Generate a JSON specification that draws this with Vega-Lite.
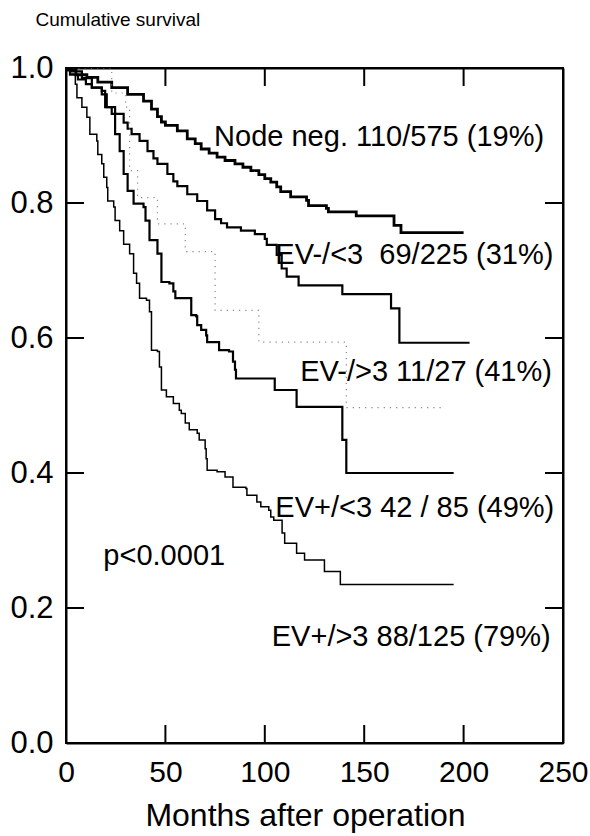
{
  "$schema": "https://vega.github.io/schema/vega-lite/v6.json",
  "width": 497,
  "height": 675,
  "autosize": {"type": "none"},
  "padding": {"left": 66, "top": 68, "right": 27, "bottom": 93},
  "background": "white",
  "config": {"view": {"stroke": "black", "strokeWidth": 2}, "font": "Liberation Sans"},
  "datasets": {
    "curves": [
      {"group": "Node neg.", "month": 0, "survival": 1.0},
      {"group": "Node neg.", "month": 1, "survival": 0.997},
      {"group": "Node neg.", "month": 5, "survival": 0.99},
      {"group": "Node neg.", "month": 10.5, "survival": 0.986},
      {"group": "Node neg.", "month": 16, "survival": 0.979},
      {"group": "Node neg.", "month": 23, "survival": 0.971},
      {"group": "Node neg.", "month": 31, "survival": 0.961},
      {"group": "Node neg.", "month": 39, "survival": 0.951},
      {"group": "Node neg.", "month": 43, "survival": 0.939},
      {"group": "Node neg.", "month": 46, "survival": 0.928},
      {"group": "Node neg.", "month": 48, "survival": 0.92},
      {"group": "Node neg.", "month": 50, "survival": 0.915},
      {"group": "Node neg.", "month": 56, "survival": 0.907},
      {"group": "Node neg.", "month": 61, "survival": 0.895},
      {"group": "Node neg.", "month": 65, "survival": 0.888},
      {"group": "Node neg.", "month": 68, "survival": 0.88},
      {"group": "Node neg.", "month": 72, "survival": 0.874},
      {"group": "Node neg.", "month": 76, "survival": 0.868},
      {"group": "Node neg.", "month": 80, "survival": 0.863},
      {"group": "Node neg.", "month": 85, "survival": 0.858},
      {"group": "Node neg.", "month": 89, "survival": 0.853},
      {"group": "Node neg.", "month": 93, "survival": 0.848},
      {"group": "Node neg.", "month": 97, "survival": 0.842},
      {"group": "Node neg.", "month": 100, "survival": 0.836},
      {"group": "Node neg.", "month": 103, "survival": 0.831},
      {"group": "Node neg.", "month": 106, "survival": 0.824},
      {"group": "Node neg.", "month": 108, "survival": 0.817},
      {"group": "Node neg.", "month": 113, "survival": 0.809},
      {"group": "Node neg.", "month": 121, "survival": 0.804},
      {"group": "Node neg.", "month": 122, "survival": 0.796},
      {"group": "Node neg.", "month": 131, "survival": 0.792},
      {"group": "Node neg.", "month": 132, "survival": 0.787},
      {"group": "Node neg.", "month": 146, "survival": 0.781},
      {"group": "Node neg.", "month": 165, "survival": 0.767},
      {"group": "Node neg.", "month": 168.5, "survival": 0.756},
      {"group": "Node neg.", "month": 200, "survival": 0.756},

      {"group": "EV-/<3", "month": 0, "survival": 1.0},
      {"group": "EV-/<3", "month": 2, "survival": 0.99},
      {"group": "EV-/<3", "month": 6, "survival": 0.983},
      {"group": "EV-/<3", "month": 10, "survival": 0.976},
      {"group": "EV-/<3", "month": 13, "survival": 0.971},
      {"group": "EV-/<3", "month": 18, "survival": 0.961},
      {"group": "EV-/<3", "month": 20.5, "survival": 0.942},
      {"group": "EV-/<3", "month": 24.7, "survival": 0.932},
      {"group": "EV-/<3", "month": 29, "survival": 0.919},
      {"group": "EV-/<3", "month": 31, "survival": 0.91},
      {"group": "EV-/<3", "month": 33, "survival": 0.902},
      {"group": "EV-/<3", "month": 37, "survival": 0.892},
      {"group": "EV-/<3", "month": 41, "survival": 0.877},
      {"group": "EV-/<3", "month": 44, "survival": 0.866},
      {"group": "EV-/<3", "month": 46, "survival": 0.858},
      {"group": "EV-/<3", "month": 51, "survival": 0.843},
      {"group": "EV-/<3", "month": 54, "survival": 0.832},
      {"group": "EV-/<3", "month": 56, "survival": 0.825},
      {"group": "EV-/<3", "month": 61, "survival": 0.813},
      {"group": "EV-/<3", "month": 66, "survival": 0.803},
      {"group": "EV-/<3", "month": 71, "survival": 0.789},
      {"group": "EV-/<3", "month": 75, "survival": 0.776},
      {"group": "EV-/<3", "month": 78, "survival": 0.77},
      {"group": "EV-/<3", "month": 81, "survival": 0.764},
      {"group": "EV-/<3", "month": 88, "survival": 0.759},
      {"group": "EV-/<3", "month": 95, "survival": 0.754},
      {"group": "EV-/<3", "month": 100, "survival": 0.747},
      {"group": "EV-/<3", "month": 101, "survival": 0.738},
      {"group": "EV-/<3", "month": 106, "survival": 0.723},
      {"group": "EV-/<3", "month": 108.5, "survival": 0.703},
      {"group": "EV-/<3", "month": 111, "survival": 0.691},
      {"group": "EV-/<3", "month": 117, "survival": 0.678},
      {"group": "EV-/<3", "month": 139, "survival": 0.665},
      {"group": "EV-/<3", "month": 163.5, "survival": 0.644},
      {"group": "EV-/<3", "month": 167.7, "survival": 0.593},
      {"group": "EV-/<3", "month": 203, "survival": 0.593},

      {"group": "EV-/>3", "month": 0, "survival": 1.0},
      {"group": "EV-/>3", "month": 23, "survival": 0.963},
      {"group": "EV-/>3", "month": 30, "survival": 0.942},
      {"group": "EV-/>3", "month": 32, "survival": 0.848},
      {"group": "EV-/>3", "month": 36, "survival": 0.808},
      {"group": "EV-/>3", "month": 46, "survival": 0.769},
      {"group": "EV-/>3", "month": 60, "survival": 0.728},
      {"group": "EV-/>3", "month": 75, "survival": 0.641},
      {"group": "EV-/>3", "month": 97, "survival": 0.594},
      {"group": "EV-/>3", "month": 141, "survival": 0.497},
      {"group": "EV-/>3", "month": 188.5, "survival": 0.497},

      {"group": "EV+/<3", "month": 0, "survival": 1.0},
      {"group": "EV+/<3", "month": 3, "survival": 0.995},
      {"group": "EV+/<3", "month": 8, "survival": 0.985},
      {"group": "EV+/<3", "month": 13, "survival": 0.971},
      {"group": "EV+/<3", "month": 18, "survival": 0.966},
      {"group": "EV+/<3", "month": 19.7, "survival": 0.942},
      {"group": "EV+/<3", "month": 23, "survival": 0.932},
      {"group": "EV+/<3", "month": 24.7, "survival": 0.902},
      {"group": "EV+/<3", "month": 27, "survival": 0.877},
      {"group": "EV+/<3", "month": 29, "survival": 0.843},
      {"group": "EV+/<3", "month": 31, "survival": 0.818},
      {"group": "EV+/<3", "month": 34, "survival": 0.799},
      {"group": "EV+/<3", "month": 39, "survival": 0.794},
      {"group": "EV+/<3", "month": 40, "survival": 0.774},
      {"group": "EV+/<3", "month": 42, "survival": 0.745},
      {"group": "EV+/<3", "month": 46, "survival": 0.725},
      {"group": "EV+/<3", "month": 48, "survival": 0.683},
      {"group": "EV+/<3", "month": 52, "survival": 0.681},
      {"group": "EV+/<3", "month": 54, "survival": 0.669},
      {"group": "EV+/<3", "month": 55, "survival": 0.659},
      {"group": "EV+/<3", "month": 63, "survival": 0.634},
      {"group": "EV+/<3", "month": 65.5, "survival": 0.632},
      {"group": "EV+/<3", "month": 66, "survival": 0.619},
      {"group": "EV+/<3", "month": 68, "survival": 0.612},
      {"group": "EV+/<3", "month": 70.5, "survival": 0.604},
      {"group": "EV+/<3", "month": 71, "survival": 0.594},
      {"group": "EV+/<3", "month": 77, "survival": 0.582},
      {"group": "EV+/<3", "month": 82, "survival": 0.58},
      {"group": "EV+/<3", "month": 84, "survival": 0.565},
      {"group": "EV+/<3", "month": 85, "survival": 0.553},
      {"group": "EV+/<3", "month": 85.5, "survival": 0.54},
      {"group": "EV+/<3", "month": 105, "survival": 0.523},
      {"group": "EV+/<3", "month": 116, "survival": 0.498},
      {"group": "EV+/<3", "month": 139, "survival": 0.449},
      {"group": "EV+/<3", "month": 141, "survival": 0.4},
      {"group": "EV+/<3", "month": 195, "survival": 0.4},

      {"group": "EV+/>3", "month": 0, "survival": 1.0},
      {"group": "EV+/>3", "month": 2, "survival": 0.991},
      {"group": "EV+/>3", "month": 4.7, "survival": 0.976},
      {"group": "EV+/>3", "month": 5.5, "survival": 0.956},
      {"group": "EV+/>3", "month": 8, "survival": 0.942},
      {"group": "EV+/>3", "month": 10.5, "survival": 0.927},
      {"group": "EV+/>3", "month": 12, "survival": 0.902},
      {"group": "EV+/>3", "month": 15.5, "survival": 0.892},
      {"group": "EV+/>3", "month": 16, "survival": 0.872},
      {"group": "EV+/>3", "month": 18, "survival": 0.858},
      {"group": "EV+/>3", "month": 19, "survival": 0.838},
      {"group": "EV+/>3", "month": 20.5, "survival": 0.823},
      {"group": "EV+/>3", "month": 21, "survival": 0.803},
      {"group": "EV+/>3", "month": 24, "survival": 0.794},
      {"group": "EV+/>3", "month": 24.7, "survival": 0.774},
      {"group": "EV+/>3", "month": 27, "survival": 0.759},
      {"group": "EV+/>3", "month": 29, "survival": 0.739},
      {"group": "EV+/>3", "month": 32, "survival": 0.725},
      {"group": "EV+/>3", "month": 34, "survival": 0.696},
      {"group": "EV+/>3", "month": 35.5, "survival": 0.681},
      {"group": "EV+/>3", "month": 37, "survival": 0.659},
      {"group": "EV+/>3", "month": 40.5, "survival": 0.656},
      {"group": "EV+/>3", "month": 42, "survival": 0.639},
      {"group": "EV+/>3", "month": 43, "survival": 0.582},
      {"group": "EV+/>3", "month": 46, "survival": 0.58},
      {"group": "EV+/>3", "month": 47, "survival": 0.557},
      {"group": "EV+/>3", "month": 48, "survival": 0.523},
      {"group": "EV+/>3", "month": 50.5, "survival": 0.513},
      {"group": "EV+/>3", "month": 54, "survival": 0.503},
      {"group": "EV+/>3", "month": 57, "survival": 0.493},
      {"group": "EV+/>3", "month": 58, "survival": 0.488},
      {"group": "EV+/>3", "month": 60, "survival": 0.474},
      {"group": "EV+/>3", "month": 62, "survival": 0.464},
      {"group": "EV+/>3", "month": 66, "survival": 0.459},
      {"group": "EV+/>3", "month": 67, "survival": 0.449},
      {"group": "EV+/>3", "month": 70, "survival": 0.436},
      {"group": "EV+/>3", "month": 70.5, "survival": 0.421},
      {"group": "EV+/>3", "month": 71, "survival": 0.404},
      {"group": "EV+/>3", "month": 76, "survival": 0.402},
      {"group": "EV+/>3", "month": 80, "survival": 0.394},
      {"group": "EV+/>3", "month": 84, "survival": 0.379},
      {"group": "EV+/>3", "month": 90.5, "survival": 0.377},
      {"group": "EV+/>3", "month": 91, "survival": 0.367},
      {"group": "EV+/>3", "month": 96, "survival": 0.357},
      {"group": "EV+/>3", "month": 98, "survival": 0.35},
      {"group": "EV+/>3", "month": 102, "survival": 0.345},
      {"group": "EV+/>3", "month": 103, "survival": 0.335},
      {"group": "EV+/>3", "month": 104.5, "survival": 0.33},
      {"group": "EV+/>3", "month": 108.7, "survival": 0.311},
      {"group": "EV+/>3", "month": 110, "survival": 0.296},
      {"group": "EV+/>3", "month": 116, "survival": 0.281},
      {"group": "EV+/>3", "month": 120, "survival": 0.271},
      {"group": "EV+/>3", "month": 130, "survival": 0.254},
      {"group": "EV+/>3", "month": 138, "survival": 0.235},
      {"group": "EV+/>3", "month": 195, "survival": 0.235}
    ],
    "labels": [
      {"label": "Node neg. 110/575 (19%)", "month": 74.5, "survival": 0.884},
      {"label": "EV-/<3\u00a0 69/225 (31%)", "month": 105.3, "survival": 0.71},
      {"label": "EV-/>3 11/27 (41%)", "month": 117.8, "survival": 0.536},
      {"label": "EV+/<3 42 / 85 (49%)", "month": 105.3, "survival": 0.335},
      {"label": "p<0.0001", "month": 18.8, "survival": 0.264},
      {"label": "EV+/>3 88/125 (79%)", "month": 103.5, "survival": 0.144}
    ],
    "ticks": [
      {"tick": "b50", "month": 50, "survival": 0}, {"tick": "b50", "month": 50, "survival": 0.0267},
      {"tick": "b100", "month": 100, "survival": 0}, {"tick": "b100", "month": 100, "survival": 0.0267},
      {"tick": "b150", "month": 150, "survival": 0}, {"tick": "b150", "month": 150, "survival": 0.0267},
      {"tick": "b200", "month": 200, "survival": 0}, {"tick": "b200", "month": 200, "survival": 0.0267},
      {"tick": "t50", "month": 50, "survival": 1}, {"tick": "t50", "month": 50, "survival": 0.9733},
      {"tick": "t100", "month": 100, "survival": 1}, {"tick": "t100", "month": 100, "survival": 0.9733},
      {"tick": "t150", "month": 150, "survival": 1}, {"tick": "t150", "month": 150, "survival": 0.9733},
      {"tick": "t200", "month": 200, "survival": 1}, {"tick": "t200", "month": 200, "survival": 0.9733},
      {"tick": "l0.2", "month": 0, "survival": 0.2}, {"tick": "l0.2", "month": 9.05, "survival": 0.2},
      {"tick": "l0.4", "month": 0, "survival": 0.4}, {"tick": "l0.4", "month": 9.05, "survival": 0.4},
      {"tick": "l0.6", "month": 0, "survival": 0.6}, {"tick": "l0.6", "month": 9.05, "survival": 0.6},
      {"tick": "l0.8", "month": 0, "survival": 0.8}, {"tick": "l0.8", "month": 9.05, "survival": 0.8},
      {"tick": "r0.2", "month": 240.95, "survival": 0.2}, {"tick": "r0.2", "month": 250, "survival": 0.2},
      {"tick": "r0.4", "month": 240.95, "survival": 0.4}, {"tick": "r0.4", "month": 250, "survival": 0.4},
      {"tick": "r0.6", "month": 240.95, "survival": 0.6}, {"tick": "r0.6", "month": 250, "survival": 0.6},
      {"tick": "r0.8", "month": 240.95, "survival": 0.8}, {"tick": "r0.8", "month": 250, "survival": 0.8}
    ]
  },
  "layer": [
    {
      "data": {"name": "ticks"},
      "mark": {"type": "line", "interpolate": "linear", "color": "black", "strokeWidth": 2, "strokeCap": "butt"},
      "encoding": {
        "x": {"field": "month", "type": "quantitative", "axis": null},
        "y": {"field": "survival", "type": "quantitative", "axis": null},
        "detail": {"field": "tick", "type": "nominal"}
      }
    },
    {
      "data": {"name": "curves"},
      "mark": {"type": "line", "interpolate": "step-after", "clip": true, "strokeCap": "butt"},
      "encoding": {
        "x": {
          "field": "month", "type": "quantitative",
          "scale": {"domain": [0, 250], "nice": false},
          "axis": {
            "orient": "bottom", "values": [0, 50, 100, 150, 200, 250],
            "ticks": false,
            "domainColor": "black", "domainWidth": 2, "grid": false,
            "labelFontSize": 30, "labelFont": "Liberation Sans", "labelColor": "black",
            "labelPadding": 14, "labelFlush": false, "labelOverlap": false,
            "title": "Months after operation", "titleFontSize": 32, "titleFontWeight": "normal",
            "titleColor": "black", "titleFont": "Liberation Sans",
            "titleX": 239, "titleY": 82, "titleBaseline": "alphabetic", "titleAlign": "center"
          }
        },
        "y": {
          "field": "survival", "type": "quantitative",
          "scale": {"domain": [0, 1], "nice": false},
          "axis": {
            "orient": "left", "values": [0, 0.2, 0.4, 0.6, 0.8, 1.0], "format": ".1f",
            "ticks": false,
            "domainColor": "black", "domainWidth": 2, "grid": false,
            "labelFontSize": 31, "labelFont": "Liberation Sans", "labelColor": "black",
            "labelPadding": 13, "labelFlush": false, "labelOverlap": false,
            "title": "Cumulative survival", "titleAngle": 0, "titleAlign": "left",
            "titleBaseline": "alphabetic", "titleX": -31, "titleY": -43,
            "titleFontSize": 19, "titleFontWeight": "normal", "titleColor": "black",
            "titleFont": "Liberation Sans"
          }
        },
        "color": {
          "field": "group", "type": "nominal",
          "scale": {"domain": ["Node neg.", "EV-/<3", "EV-/>3", "EV+/<3", "EV+/>3"], "range": ["black", "black", "#888888", "black", "black"]},
          "legend": null
        },
        "strokeWidth": {
          "field": "group", "type": "nominal",
          "scale": {"type": "ordinal", "domain": ["Node neg.", "EV-/<3", "EV-/>3", "EV+/<3", "EV+/>3"], "range": [2.8, 2.2, 1.2, 2.2, 1.5]},
          "legend": null
        },
        "strokeDash": {
          "field": "group", "type": "nominal",
          "scale": {"domain": ["Node neg.", "EV-/<3", "EV-/>3", "EV+/<3", "EV+/>3"], "range": [[1, 0], [1, 0], [1.2, 5], [1, 0], [1, 0]]},
          "legend": null
        }
      }
    },
    {
      "data": {"name": "labels"},
      "mark": {"type": "text", "align": "left", "baseline": "alphabetic", "fontSize": 29, "font": "Liberation Sans", "color": "black"},
      "encoding": {
        "x": {
          "field": "month", "type": "quantitative",
          "axis": {"orient": "top", "labels": false, "ticks": false, "title": null, "domainColor": "black", "domainWidth": 2, "grid": false}
        },
        "y": {
          "field": "survival", "type": "quantitative",
          "axis": {"orient": "right", "labels": false, "ticks": false, "title": null, "domainColor": "black", "domainWidth": 2, "grid": false}
        },
        "text": {"field": "label", "type": "nominal"}
      }
    }
  ],
  "resolve": {"axis": {"x": "independent", "y": "independent"}}
}
